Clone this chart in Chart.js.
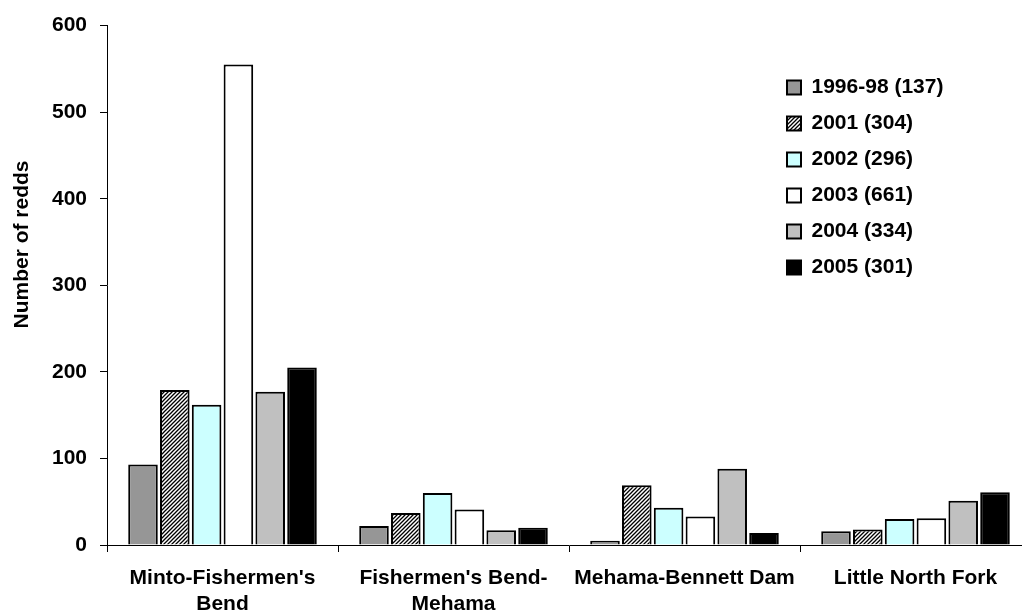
<!DOCTYPE html>
<html>
<head>
<meta charset="utf-8">
<script src="https://cdn.jsdelivr.net/npm/chart.js@4"></script>
<style>
  html, body { margin: 0; padding: 0; background: #fff; overflow: hidden; }
  #chart { position: absolute; left: 0; top: 0; }
</style>
</head>
<body>
<canvas id="chart" width="1040" height="620"></canvas>
<script>
// reach names on the x axis
const reaches = [["Minto-Fishermen's", "Bend"], ["Fishermen's Bend-", "Mehama"], "Mehama-Bennett Dam", "Little North Fork"];

// redd counts per year
const years9698 = [93, 22, 5, 16];
const year2001 = [179, 37, 69, 18];
const year2002 = [162, 60, 43, 30];
const year2003 = [555, 41, 33, 31];
const year2004 = [177, 17, 88, 51];
const year2005 = [205, 20, 14, 61];

const seriesLabels = ["1996-98 (137)", "2001 (304)", "2002 (296)", "2003 (661)", "2004 (334)", "2005 (301)"];
const yTicks = [0, 100, 200, 300, 400, 500, 600];

// diagonal hatch for 2001
function hatch() {
  const c = document.createElement('canvas');
  c.width = 4; c.height = 4;
  const g = c.getContext('2d');
  g.fillStyle = '#fff';
  g.fillRect(0, 0, 4, 4);
  g.strokeStyle = '#000';
  g.lineWidth = 1.3;
  g.beginPath();
  g.moveTo(-1, 5); g.lineTo(5, -1);
  g.moveTo(-1, 1); g.lineTo(1, -1);
  g.moveTo(3, 5); g.lineTo(5, 3);
  g.stroke();
  return g.createPattern(c, 'repeat');
}

const fills = ['#969696', hatch(), '#ccffff', '#ffffff', '#c0c0c0', '#000000'];
const values = [years9698, year2001, year2002, year2003, year2004, year2005];

const boldFont = { family: 'Liberation Sans, Arial, sans-serif', size: 21, weight: 'bold' };

// put the legend inside the plot, upper right
const moveLegend = {
  id: 'moveLegend',
  afterLayout(chart) {
    const lg = chart.legend;
    const w = lg.width, h = lg.height;
    lg.left = 772; lg.top = 62;
    lg.right = lg.left + w; lg.bottom = lg.top + h;
  }
};

new Chart(document.getElementById('chart'), {
  type: 'bar',
  data: {
    labels: reaches,
    datasets: seriesLabels.map((label, i) => ({
      label: label,
      data: values[i],
      backgroundColor: fills[i],
      borderColor: '#000',
      borderWidth: 2,
      categoryPercentage: 0.826,
      barPercentage: 0.93
    }))
  },
  options: {
    responsive: false,
    animation: false,
    layout: { padding: { top: 25, right: 9, left: 0, bottom: 0 } },
    plugins: {
      legend: {
        position: 'chartArea',
        align: 'start',
        labels: {
          color: '#000',
          font: boldFont,
          boxWidth: 14,
          boxHeight: 14,
          padding: 15
        }
      },
      tooltip: { enabled: false }
    },
    scales: {
      x: {
        afterFit(scale) { scale.height = 75; },
        grid: { drawOnChartArea: false, color: '#000', tickLength: 7 },
        border: { color: '#000', width: 1 },
        ticks: { color: '#000', font: boldFont, padding: 14, maxRotation: 0, autoSkip: false }
      },
      y: {
        min: 0,
        max: 600,
        afterFit(scale) { scale.width = 107; },
        afterBuildTicks(scale) { scale.ticks = yTicks.map(v => ({ value: v })); },
        grid: { drawOnChartArea: false, color: '#000', tickLength: 7 },
        border: { color: '#000', width: 1 },
        ticks: { color: '#000', font: boldFont, padding: 13 },
        title: {
          display: true,
          // leading spaces lift the title a little, as in the original
          text: '\u00A0'.repeat(14) + 'Number of redds',
          color: '#000',
          font: boldFont,
          padding: { top: 10, bottom: 0 }
        }
      }
    }
  },
  plugins: [moveLegend]
});
</script>
</body>
</html>
